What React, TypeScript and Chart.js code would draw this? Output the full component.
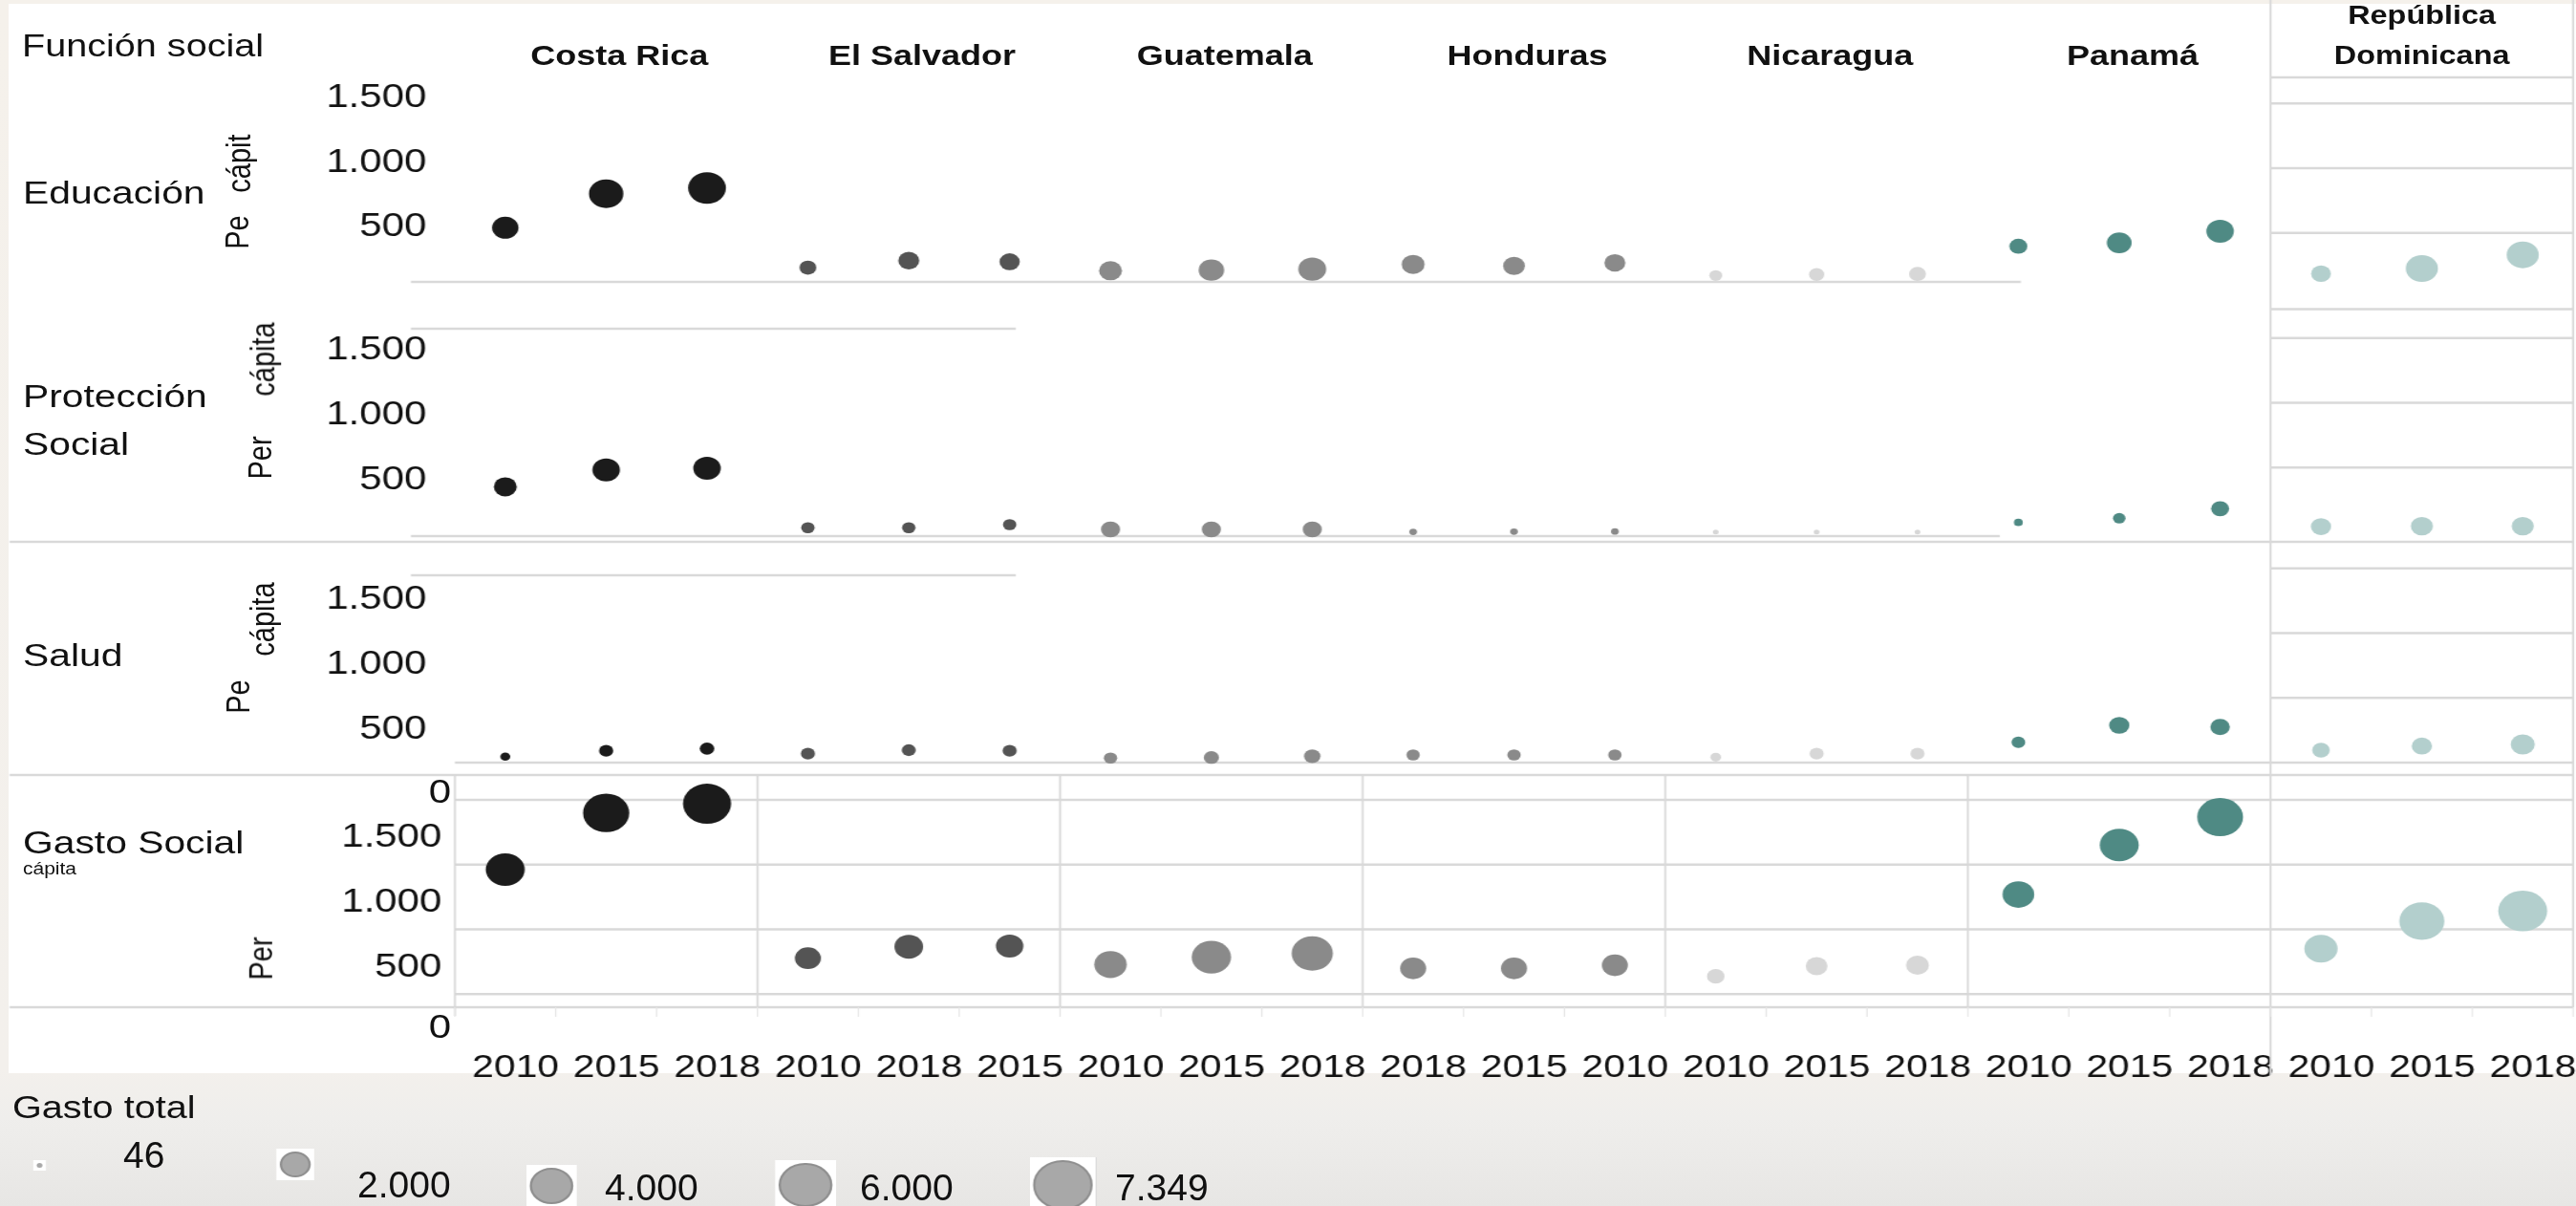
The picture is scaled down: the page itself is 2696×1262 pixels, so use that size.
import React, { useEffect, useRef } from "react";
import { Chart, registerables } from "chart.js";

Chart.register(...registerables);

// ---------------- data ----------------
const countries = [
  "Costa Rica",
  "El Salvador",
  "Guatemala",
  "Honduras",
  "Nicaragua",
  "Panamá",
  "República Dominicana",
];
const countryColors = ["#1b1b1b", "#545454", "#8a8a8a", "#8a8a8a", "#d7d7d7", "#4f8a84", "#b3cfcd"];
const years = ["2010", "2015", "2018"];
const yearTickLabels = [
  "2010", "2015", "2018", "2010", "2018", "2015", "2010", "2015", "2018", "2018", "2015",
  "2010", "2010", "2015", "2018", "2010", "2015", "2018", "2010", "2015", "2018",
];
const functionLabels = ["Educación", "Protección Social", "Salud", "Gasto Social"];

// per cápita spending (slot order: country × year)
const educacionPerCapita = [540, 803, 847, 232, 286, 277, 208, 213, 220, 257, 245, 269, 171, 179, 183, 397, 424, 513, 185, 225, 331];
const proteccionPerCapita = [351, 482, 494, 35, 35, 59, 22, 22, 22, 3, 5, 6, 2, 2, 2, 76, 108, 182, 44, 47, 47];
const saludPerCapita = [46, 91, 108, 69, 96, 91, 35, 39, 49, 59, 59, 59, 42, 69, 69, 157, 288, 275, 96, 128, 140];
const gastoSocialPerCapita = [1461, 1899, 1970, 777, 866, 871, 728, 785, 814, 699, 699, 723, 637, 716, 723, 1269, 1651, 1867, 851, 1063, 1142];

// gasto total (bubble size)
const educacionTotal = [1451, 2469, 2988, 593, 919, 859, 1097, 1364, 1620, 1097, 990, 919, 350, 485, 593, 676, 1292, 1580, 821, 2150, 2150];
const proteccionTotal = [1097, 1580, 1580, 375, 375, 375, 765, 765, 765, 123, 123, 123, 69, 69, 69, 163, 332, 676, 859, 1022, 1022];
const saludTotal = [208, 415, 442, 415, 415, 415, 375, 485, 561, 375, 375, 375, 237, 415, 415, 395, 859, 793, 642, 859, 1210];
const gastoSocialTotal = [3171, 4455, 4839, 1413, 1714, 1580, 2197, 3227, 3555, 1413, 1413, 1413, 642, 990, 1097, 2105, 3171, 4389, 2307, 4237, 5002];

const rowTicks = [1500, 1000, 500];
const rowTickLabels = ["1.500", "1.000", "500"];
const gastoGridTicks = [2000, 1500, 1000, 500];
const gastoTicks = [1500, 1000, 500];
const gastoTickLabels = ["1.500", "1.000", "500"];
const gastoStrayLabels = ["0", "0"];

const legendTitle = "Gasto total";
const legendValues = [46, 2000, 4000, 6000, 7349];
const legendLabels = ["46", "2.000", "4.000", "6.000", "7.349"];

// ---------------- layout ----------------
const S = 1.2; // horizontal stretch of the reference
const FULL_W = 2696;
const FULL_H = 1262;
const CANVAS_W = Math.ceil(FULL_W / S);
const sx = (x: number) => x / S;

const PLOT_LEFT = 476;
const PLOT_RIGHT = 2693;
const PLOT_TOP = 60;
const PLOT_BOTTOM = 1054;
const ROW_BOUNDS = [60, 323.5, 567, 811, 1054];
const ROW_ZERO = [311.5, 557, 798, 1108];
const PX_PER_UNIT = 67.75 / 500;
const ROW_LABEL_OFFSET = [-6, 13, 33, -28];
const ROW_TICK_PAD = [16.7, 16.7, 16.7, 3.4];
const GRID = "#d9d9d9";
const FONT = "'Liberation Sans', Arial, Helvetica, sans-serif";
const INK = "#111111";

const SLOT_W = (PLOT_RIGHT - PLOT_LEFT) / yearTickLabels.length;
const radiusFor = (total: number) => Math.max(2.5, 13.5 * Math.sqrt(total / 2000));

const rowSeries = [
  { perCapita: educacionPerCapita, total: educacionTotal },
  { perCapita: proteccionPerCapita, total: proteccionTotal },
  { perCapita: saludPerCapita, total: saludTotal },
  { perCapita: gastoSocialPerCapita, total: gastoSocialTotal },
];
const yIds = ["y1", "y2", "y3", "y4"];

const rowLabelLines = [["Educación"], ["Protección", "Social"], ["Salud"], ["Gasto Social"]];
const rowLabelBaselines = [[213], [426, 476], [697], [893]];
const perCapitaFragments: [string, number, number][] = [
  ["Pe", 248, 242.5],
  ["cápit", 251, 170.5],
  ["Per", 272, 478.5],
  ["cápita", 275.5, 376],
  ["Pe", 249, 728.5],
  ["cápita", 275.5, 647.5],
  ["Per", 273, 1002.5],
];
const strayLabelBaselines = [840, 1085.5];
const legendCenters: [number, number][] = [
  [41, 1219],
  [309, 1218],
  [577, 1241],
  [843, 1240],
  [1112, 1240],
];
const legendLabelPos: [number, number][] = [
  [129, 1222],
  [374, 1253],
  [633, 1256],
  [900, 1256],
  [1167, 1256],
];

const framePlugin = {
  id: "frames",
  beforeDatasetsDraw(chart: any) {
    const ctx = chart.ctx as CanvasRenderingContext2D;
    const xs = chart.scales.x;
    const ys = yIds.map((id) => chart.scales[id]);
    const bx = (v: number) => xs.getPixelForValue(v);
    const xL = sx(10);
    const xR = bx(20.5);
    const xDO = bx(17.5);
    ctx.save();
    ctx.strokeStyle = GRID;
    const h = (y: number, x0: number, x1: number, w = 2.5) => {
      ctx.lineWidth = w;
      ctx.beginPath();
      ctx.moveTo(x0, y);
      ctx.lineTo(x1, y);
      ctx.stroke();
    };
    const v = (x: number, y0: number, y1: number, w = 1.8) => {
      ctx.lineWidth = w;
      ctx.beginPath();
      ctx.moveTo(x, y0);
      ctx.lineTo(x, y1);
      ctx.stroke();
    };
    // República Dominicana panel frame and its gridlines
    h(81, xDO, xR);
    h(ROW_BOUNDS[1], xDO, xR);
    for (let k = 0; k < 3; k++) rowTicks.forEach((t) => h(ys[k].getPixelForValue(t), xDO, xR));
    // Gasto social gridlines
    gastoGridTicks.forEach((t) => h(ys[3].getPixelForValue(t), bx(-0.5), xR));
    // row separators
    h(ROW_BOUNDS[2], xL, xR);
    h(ROW_BOUNDS[3], xL, xR);
    h(ROW_BOUNDS[4], xL, xR);
    // row baselines
    h(295, sx(430), sx(2115));
    h(344, sx(430), sx(1063));
    h(561, sx(430), sx(2093));
    h(602, sx(430), sx(1063));
    h(ys[2].getPixelForValue(0), bx(-0.5), xR);
    // panel verticals
    countries.forEach((_, i) => {
      if (i > 0 && i < 6) v(bx(3 * i - 0.5), ROW_BOUNDS[3], ROW_BOUNDS[4]);
    });
    v(bx(-0.5), ROW_BOUNDS[3], 1063);
    v(xDO, 0, 1125);
    v(xR, 0, ROW_BOUNDS[4]);
    ctx.strokeStyle = "#e6e6e6";
    for (let i = 0; i <= yearTickLabels.length; i++) v(bx(i - 0.5), 1054, 1064, 1.2);
    ctx.restore();
  },
};

function buildConfig(): any {
  const datasets: any[] = [];
  rowSeries.forEach((row, k) => {
    countries.forEach((c, ci) => {
      datasets.push({
        label: `${functionLabels[k]} – ${c}`,
        yAxisID: yIds[k],
        data: years.map((_, yi) => {
          const i = ci * 3 + yi;
          return { x: i, y: row.perCapita[i], r: radiusFor(row.total[i]) };
        }),
        backgroundColor: countryColors[ci],
        borderWidth: 0,
        clip: false,
      });
    });
  });

  const scales: any = {
    x: {
      type: "linear",
      position: "bottom",
      bounds: "data",
      min: -0.5,
      max: yearTickLabels.length - 0.5,
      afterBuildTicks: (s: any) => {
        s.ticks = yearTickLabels.map((_, i) => ({ value: i }));
      },
      afterFit: (s: any) => {
        s.height = FULL_H - PLOT_BOTTOM;
        s.paddingLeft = 0;
        s.paddingRight = 0;
      },
      grid: { display: true, drawOnChartArea: false, drawTicks: true, tickLength: 43, color: "rgba(0,0,0,0)" },
      border: { display: false },
      ticks: {
        autoSkip: false,
        maxRotation: 0,
        minRotation: 0,
        padding: 0,
        labelOffset: 9,
        color: INK,
        font: { family: FONT, size: 34 },
        callback: (_v: any, i: number) => yearTickLabels[i],
      },
    },
  };
  yIds.forEach((id, k) => {
    const last = k === 3;
    const top = ROW_BOUNDS[k];
    const bottom = ROW_BOUNDS[k + 1];
    scales[id] = {
      type: "linear",
      axis: "y",
      position: "left",
      stack: "rows",
      stackWeight: bottom - top,
      weight: 4 - k,
      bounds: "data",
      min: (ROW_ZERO[k] - bottom) / PX_PER_UNIT,
      max: (ROW_ZERO[k] - top) / PX_PER_UNIT,
      afterFit: (s: any) => {
        s.width = sx(PLOT_LEFT);
      },
      afterBuildTicks: (s: any) => {
        s.ticks = (last ? gastoTicks : rowTicks).map((value) => ({ value }));
      },
      border: { display: false },
      grid: { display: false },
      ticks: {
        padding: ROW_TICK_PAD[k],
        labelOffset: ROW_LABEL_OFFSET[k],
        color: INK,
        font: { family: FONT, size: 35 },
        callback: (_v: any, i: number) => (last ? gastoTickLabels : rowTickLabels)[i],
      },
    };
  });

  return {
    type: "bubble",
    data: { datasets },
    options: {
      responsive: false,
      animation: false,
      devicePixelRatio: 1,
      events: [],
      layout: {
        autoPadding: false,
        padding: { left: 0, right: CANVAS_W - sx(PLOT_RIGHT), top: PLOT_TOP, bottom: 0 },
      },
      plugins: { legend: { display: false }, tooltip: { enabled: false } },
      scales,
    },
    plugins: [framePlugin],
  };
}

const abs = (left: number, baseline: number, size: number, extra: any = {}): React.CSSProperties => ({
  position: "absolute",
  left,
  top: baseline - 0.8465 * size,
  fontSize: size,
  lineHeight: `${size}px`,
  fontFamily: FONT,
  color: INK,
  whiteSpace: "nowrap",
  ...extra,
});

export default function App() {
  const ref = useRef<HTMLCanvasElement>(null);
  useEffect(() => {
    const chart = new Chart(ref.current as HTMLCanvasElement, buildConfig());
    return () => chart.destroy();
  }, []);

  const panelCenter = (i: number) => PLOT_LEFT + (3 * i + 1.5) * SLOT_W;

  return (
    <div
      style={{
        position: "absolute",
        left: 0,
        top: 0,
        width: FULL_W,
        height: FULL_H,
        overflow: "hidden",
        background: "linear-gradient(180deg, #f5f1eb 0px, #f3f0ec 1120px, #efeeec 1170px, #e7e6e4 1262px)",
      }}
    >
      <div style={{ position: "absolute", left: 9, top: 4, width: FULL_W - 9, height: 1119, background: "#ffffff" }} />
      <div
        style={{
          position: "absolute",
          left: 0,
          top: 0,
          width: CANVAS_W,
          height: FULL_H,
          transform: `scaleX(${S})`,
          transformOrigin: "0 0",
        }}
      >
        <canvas
          ref={ref}
          width={CANVAS_W}
          height={FULL_H}
          style={{ position: "absolute", left: 0, top: 0, width: CANVAS_W, height: FULL_H, display: "block" }}
        />
        <div style={abs(sx(23), 59.3, 33)}>Función social</div>
        {countries.map((c, i) => {
          const lines = i === 6 ? c.split(" ") : [c];
          const size = i === 6 ? 27 : 30;
          const baselines = i === 6 ? [26, 68.3] : [68.3];
          const cx = sx(panelCenter(i) + (i === 6 ? 0 : 14));
          return lines.map((ln, j) => (
            <div key={`h${i}-${j}`} style={abs(cx, baselines[j], size, { fontWeight: 700, transform: "translateX(-50%)" })}>
              {ln}
            </div>
          ));
        })}
        {rowLabelLines.map((lines, k) =>
          lines.map((ln, j) => (
            <div key={`r${k}-${j}`} style={abs(sx(24), rowLabelBaselines[k][j], 34)}>
              {ln}
            </div>
          ))
        )}
        <div style={abs(sx(24), 916, 17.5)}>cápita</div>
        {perCapitaFragments.map(([t, cx, cy], i) => (
          <div
            key={`p${i}`}
            style={{
              position: "absolute",
              left: sx(cx),
              top: cy,
              fontFamily: FONT,
              fontSize: 29,
              lineHeight: "29px",
              color: INK,
              whiteSpace: "nowrap",
              transform: "translate(-50%, -50%) rotate(-90deg)",
            }}
          >
            {t}
          </div>
        ))}
        {gastoStrayLabels.map((t, i) => (
          <div key={`s${i}`} style={abs(sx(472), strayLabelBaselines[i], 35, { transform: "translateX(-100%)" })}>
            {t}
          </div>
        ))}
        <div style={abs(sx(13), 1170, 33)}>{legendTitle}</div>
        {legendValues.map((val, i) => {
          const d = 2 * radiusFor(val);
          const [cx, cy] = legendCenters[i];
          return (
            <React.Fragment key={`l${i}`}>
              <div
                style={{
                  position: "absolute",
                  left: sx(cx) - d / 2 - 3,
                  top: cy - d / 2 - 3,
                  width: d + 6,
                  height: d + 6,
                  background: "#ffffff",
                }}
              />
              <div
                style={{
                  position: "absolute",
                  left: sx(cx) - d / 2,
                  top: cy - d / 2,
                  width: d,
                  height: d,
                  boxSizing: "border-box",
                  borderRadius: "50%",
                  background: "#a8a8a8",
                  border: d > 10 ? "2px solid #8f8f8f" : "none",
                }}
              />
            </React.Fragment>
          );
        })}
      </div>
      {legendLabels.map((t, i) => (
        <div key={`lt${i}`} style={abs(legendLabelPos[i][0], legendLabelPos[i][1], 39)}>
          {t}
        </div>
      ))}
    </div>
  );
}
